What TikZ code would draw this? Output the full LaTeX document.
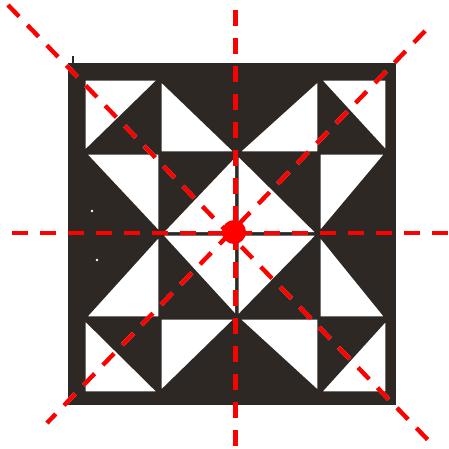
\documentclass[tikz,border=0pt]{standalone}
\definecolor{ink}{RGB}{45,40,36}
\definecolor{redline}{RGB}{255,0,0}
\definecolor{shade}{RGB}{208,208,208}
\begin{document}
\begin{tikzpicture}[x=1pt,y=-1pt,
  frame/.style={fill=ink},
  whitetri/.style={fill=white,draw=ink,line width=3.4pt,line join=round},
  speck/.style={fill=white},
  axisline/.style={draw=redline,line width=4.3pt,dash pattern=on 16pt off 12pt},
  axisshadow/.style={draw=shade,line width=4.3pt,dash pattern=on 16pt off 12pt,shift={(0.5,3.5)}}]
\useasboundingbox (0,0) rectangle (449,448);
% black square
\fill[frame] (68,63) rectangle (396,405);
\fill[frame] (72,56) rectangle (74,64);
% grid X: 84,160,237,319,387   Y: 79,153,234,318,393
% row 0
\filldraw[whitetri] (84,79) -- (160,79) -- (84,153) -- cycle;
\filldraw[whitetri] (160,79) -- (160,153) -- (237,153) -- cycle;
\filldraw[whitetri] (319,79) -- (319,153) -- (237,153) -- cycle;
\filldraw[whitetri] (319,79) -- (387,79) -- (387,153) -- cycle;
% row 1
\filldraw[whitetri] (84,153) -- (160,153) -- (160,234) -- cycle;
\filldraw[whitetri] (237,153) -- (237,234) -- (160,234) -- cycle;
\filldraw[whitetri] (237,153) -- (237,234) -- (319,234) -- cycle;
\filldraw[whitetri] (319,153) -- (387,153) -- (319,234) -- cycle;
% row 2
\filldraw[whitetri] (160,234) -- (160,318) -- (84,318) -- cycle;
\filldraw[whitetri] (160,234) -- (237,234) -- (237,318) -- cycle;
\filldraw[whitetri] (237,234) -- (319,234) -- (237,318) -- cycle;
\filldraw[whitetri] (319,234) -- (319,318) -- (387,318) -- cycle;
% row 3
\filldraw[whitetri] (84,318) -- (84,393) -- (160,393) -- cycle;
\filldraw[whitetri] (160,318) -- (237,318) -- (160,393) -- cycle;
\filldraw[whitetri] (237,318) -- (319,318) -- (319,393) -- cycle;
\filldraw[whitetri] (387,318) -- (387,393) -- (319,393) -- cycle;
% specks
\fill[speck] (92,211) circle (1.4);
\fill[speck] (97,260) circle (1.4);
% red symmetry axes
\coordinate (vT) at (235.5,10);
\coordinate (vB) at (235.5,448);
\coordinate (hL) at (12,233);
\coordinate (hR) at (449,233);
\coordinate (dAa) at (8,5);
\coordinate (dAb) at (428,440);
\coordinate (dBa) at (425,31);
\coordinate (dBb) at (47,423);
\coordinate (ctr) at (234,232);
\draw[axisshadow] (vT) -- (vB);
\draw[axisshadow] (hL) -- (hR);
\draw[axisshadow] (dAa) -- (dAb);
\draw[axisshadow] (dBa) -- (dBb);
\draw[axisline] (vT) -- (vB);
\draw[axisline] (hL) -- (hR);
\draw[axisline] (dAa) -- (dAb);
\draw[axisline] (dBa) -- (dBb);
\fill[redline] (ctr) circle (12);
\end{tikzpicture}
\end{document}
